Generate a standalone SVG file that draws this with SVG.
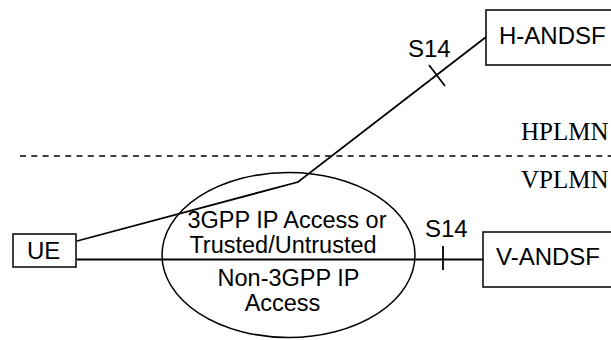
<svg xmlns="http://www.w3.org/2000/svg" width="611" height="340" viewBox="0 0 611 340">
<style>
.box{fill:#fff;stroke:#000;stroke-width:1.5}
.ln{fill:none;stroke:#000;stroke-width:1.8}
.t{font-family:"Liberation Sans",Arial,sans-serif;font-size:24px;fill:#000}
.e{font-family:"Liberation Sans",Arial,sans-serif;font-size:23.5px;fill:#000}
.s{font-family:"Liberation Serif","Times New Roman",serif;font-size:25px;fill:#000}
</style>
<rect width="611" height="340" fill="#fff"/>
<g id="domains">
<line x1="20" y1="156" x2="611" y2="156" stroke="#000" stroke-width="1.4" stroke-dasharray="6,5.3"/>
<text class="s" x="521" y="140">HPLMN</text>
<text class="s" x="521" y="188">VPLMN</text>
</g>
<g id="access">
<ellipse cx="288.5" cy="255" rx="126.5" ry="82.5" fill="none" stroke="#000" stroke-width="1.5"/>
<text class="e" x="287" y="228" text-anchor="middle">3GPP IP Access or</text>
<text class="e" x="283" y="253" text-anchor="middle">Trusted/Untrusted</text>
<text class="e" x="288.5" y="286" text-anchor="middle">Non-3GPP IP</text>
<text class="e" x="282.5" y="311" text-anchor="middle">Access</text>
</g>
<g id="connectors">
<polyline class="ln" points="77,241 298,182 486,37"/>
<line class="ln" x1="429" y1="65" x2="445" y2="86"/>
<text class="t" x="408" y="57">S14</text>
<line class="ln" x1="77" y1="259.5" x2="483" y2="259.5"/>
<line class="ln" x1="443" y1="246" x2="443" y2="270"/>
<text class="t" x="425" y="237">S14</text>
</g>
<g id="ue">
<rect class="box" x="13" y="234" width="63" height="33"/>
<text class="t" x="27" y="259">UE</text>
</g>
<g id="h-andsf">
<rect class="box" x="486" y="10" width="140" height="55"/>
<text class="t" x="499" y="44">H-ANDSF</text>
</g>
<g id="v-andsf">
<rect class="box" x="483" y="232" width="140" height="55"/>
<text class="t" x="496" y="265">V-ANDSF</text>
</g>
</svg>
